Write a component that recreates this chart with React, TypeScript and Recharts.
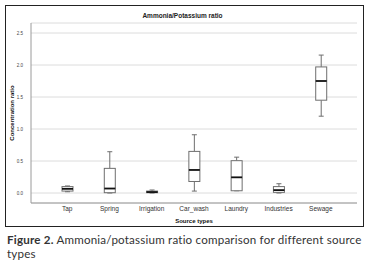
import React from 'react';
import { ComposedChart, Bar, XAxis, YAxis, CartesianGrid, Label } from 'recharts';

const categories = ['Tap', 'Spring', 'Irrigation', 'Car_wash', 'Laundry', 'Industries', 'Sewage'];
const mins = [0.02, 0.0, 0.0, 0.03, 0.035, 0.0, 1.2];
const q1s = [0.03, 0.005, 0.005, 0.18, 0.035, 0.01, 1.45];
const medians = [0.065, 0.07, 0.015, 0.36, 0.245, 0.045, 1.75];
const q3s = [0.1, 0.385, 0.03, 0.65, 0.505, 0.1, 1.97];
const maxs = [0.11, 0.645, 0.047, 0.91, 0.56, 0.145, 2.155];
const yTicks = [0, 0.5, 1, 1.5, 2, 2.5];

const data = categories.map((name, i) => ({
  name,
  min: mins[i],
  q1: q1s[i],
  median: medians[i],
  q3: q3s[i],
  max: maxs[i],
  range: [mins[i], maxs[i]],
}));

const BoxShape = (props: any) => {
  const { x, y, width, height, payload } = props;
  const span = payload.max - payload.min;
  const px = span > 0 ? height / span : 0;
  const yOf = (v: number) => y + (payload.max - v) * px;
  const cx = x + width / 2;
  const capW = 5;
  const stroke = '#6e6e6e';
  return (
    <g>
      <line x1={cx} x2={cx} y1={yOf(payload.max)} y2={yOf(payload.q3)} stroke={stroke} strokeWidth={1} />
      <line x1={cx} x2={cx} y1={yOf(payload.q1)} y2={yOf(payload.min)} stroke={stroke} strokeWidth={1} />
      <line x1={cx - capW / 2} x2={cx + capW / 2} y1={yOf(payload.max)} y2={yOf(payload.max)} stroke={stroke} strokeWidth={1} />
      <line x1={cx - capW / 2} x2={cx + capW / 2} y1={yOf(payload.min)} y2={yOf(payload.min)} stroke={stroke} strokeWidth={1} />
      <rect x={x} y={yOf(payload.q3)} width={width} height={Math.max(yOf(payload.q1) - yOf(payload.q3), 1)} fill="#ffffff" stroke={stroke} strokeWidth={1} />
      <line x1={x} x2={x + width} y1={yOf(payload.median)} y2={yOf(payload.median)} stroke="#111" strokeWidth={1.8} />
    </g>
  );
};

const captionStyle: React.CSSProperties = {
  position: 'absolute',
  left: 7,
  whiteSpace: 'nowrap',
  fontFamily: 'Lato, sans-serif',
  fontSize: 11.6,
  letterSpacing: 0.2,
  lineHeight: '14px',
  color: '#333',
};

export default function App() {
  return (
    <div style={{ position: 'absolute', left: 0, top: 0, width: 369, height: 269, background: '#fff', fontFamily: '"Liberation Sans", Arial, sans-serif' }}>
      <div style={{ position: 'absolute', left: 5, top: 5, width: 357, height: 220, border: '1.5px solid #222', boxSizing: 'content-box' }} />
      <div style={{ position: 'absolute', left: 0, width: 369, top: 12, textAlign: 'center', fontSize: 6.5, fontWeight: 'bold', color: '#222' }}>
        <span style={{ position: 'relative', left: -2 }}>Ammonia/Potassium ratio</span>
      </div>
      <div style={{ position: 'absolute', left: 0, top: 0 }}>
        <ComposedChart width={369} height={230} data={data} margin={{ top: 23, right: 12, bottom: 11, left: 7 }}>
          <CartesianGrid vertical={false} stroke="#dcdcdc" strokeWidth={1} />
          <XAxis
            dataKey="name"
            stroke="#9a9a9a"
            tickLine={false}
            tickSize={1}
            padding={{ left: 15, right: 15 }}
            tick={{ fontSize: 6.5, fill: '#333' }}
            height={16}
            interval={0}
          >
            <Label value="Source types" position="insideBottom" offset={-4} style={{ fontSize: 6, fontWeight: 'bold', fill: '#111' }} />
          </XAxis>
          <YAxis
            type="number"
            domain={[-0.15625, 2.65625]}
            ticks={yTicks}
            tickFormatter={(v: number) => v.toFixed(1)}
            stroke="#9a9a9a"
            tickLine={false}
            tick={{ fontSize: 4.5, fill: '#444' }}
            width={24}
            allowDataOverflow
          >
            <Label value="Concentration ratio" angle={-90} position="insideLeft" offset={5} style={{ fontSize: 6, fontWeight: 'bold', fill: '#111', textAnchor: 'middle' }} />
          </YAxis>
          <Bar dataKey="range" barSize={11} shape={BoxShape} isAnimationActive={false} />
        </ComposedChart>
      </div>
      <div style={{ ...captionStyle, top: 233 }}>
        <span style={{ fontWeight: 'bold' }}>Figure 2.</span>
        <span> Ammonia/potassium ratio comparison for different source</span>
      </div>
      <div style={{ ...captionStyle, top: 247 }}>
        <span>types</span>
      </div>
    </div>
  );
}
